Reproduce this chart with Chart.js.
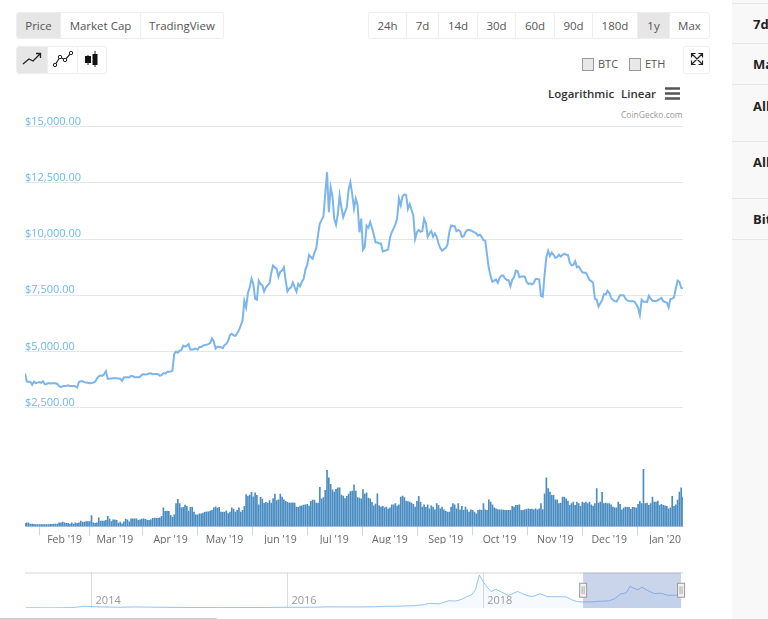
<!DOCTYPE html>
<html>
<head>
<meta charset="utf-8">
<title>Bitcoin price chart</title>
<script src="https://cdn.jsdelivr.net/npm/chart.js@4"></script>
<style>
html, body { margin: 0; padding: 0; background: #fff; width: 768px; height: 619px; overflow: hidden; }
body { position: relative; font-family: "Open Sans", sans-serif; color: #555; }
canvas { position: absolute; display: block; }
.group { position: absolute; display: flex; box-sizing: border-box; border: 1px solid #eee; border-radius: 3px; height: 27px; background: #fff; overflow: hidden; }
.group div { box-sizing: border-box; border-right: 1px solid #eee; font-size: 11.5px; line-height: 25px; text-align: center; flex: none; }
.group div:last-child { border-right: 0; }
.group .on { background: #e6e6e6; }
.group svg { display: block; margin: 2px auto 0; }
.abs { position: absolute; white-space: nowrap; }
.check { position: absolute; top: 58px; width: 10px; height: 11px; border: 1px solid #999; background: #e8e8e8; }
.panel { position: absolute; left: 732px; top: 0; width: 36px; height: 619px; background: #f8f8f8; overflow: hidden; }
.panel div { position: absolute; left: 21px; font: bold 13px "Open Sans", sans-serif; color: #222; white-space: nowrap; }
.panel hr { position: absolute; left: 0; width: 36px; margin: 0; border: 0; border-top: 1px solid #e6e6e6; }
</style>
</head>
<body>

<div class="group" style="left:16px;top:12px;width:208px">
  <div class="on" style="width:44px">Price</div>
  <div style="width:80px">Market Cap</div>
  <div style="width:82px">TradingView</div>
</div>
<div class="group" style="left:368px;top:12px;width:342px">
  <div style="width:38px">24h</div>
  <div style="width:32px">7d</div>
  <div style="width:39px">14d</div>
  <div style="width:38px">30d</div>
  <div style="width:39px">60d</div>
  <div style="width:38px">90d</div>
  <div style="width:45px">180d</div>
  <div class="on" style="width:32px">1y</div>
  <div style="width:39px">Max</div>
</div>
<div class="group" style="left:16px;top:46px;width:91px;height:28px">
  <div class="on" style="width:31px"><svg width="22" height="20"><path d="M2 15 L8 10 L12 12 L19 5 M15 4.500 H19.500 V9" fill="none" stroke="#222" stroke-width="1.300"/></svg></div>
  <div style="width:30px"><svg width="22" height="20"><path d="M3 16 L8 8 L13 11 L19 4" fill="none" stroke="#222" stroke-width="1.200"/><circle cx="3" cy="16" r="1.700" fill="#fff" stroke="#222"/><circle cx="8" cy="8" r="1.700" fill="#fff" stroke="#222"/><circle cx="13" cy="11" r="1.700" fill="#fff" stroke="#222"/><circle cx="19" cy="4" r="1.700" fill="#fff" stroke="#222"/></svg></div>
  <div style="width:28px"><svg width="20" height="20"><path d="M6 6 V16 M13 2 V18" stroke="#222"/><rect x="3" y="7" width="6" height="7" fill="#111"/><rect x="10.500" y="5" width="5" height="11" fill="#111"/></svg></div>
</div>
<div class="group" style="left:683px;top:46px;width:27px;height:28px">
  <div style="width:25px"><svg width="14" height="14" style="margin-top:5px"><path d="M2 2 L12 12 M12 2 L2 12 M1.500 5.500 V1.500 H5.500 M8.500 1.500 H12.500 V5.500 M1.500 8.500 V12.500 H5.500 M8.500 12.500 H12.500 V8.500" fill="none" stroke="#222" stroke-width="1.200"/></svg></div>
</div>

<div class="check" style="left:582px"></div>
<div class="abs" style="left:598px;top:56px;font-size:11px">BTC</div>
<div class="check" style="left:629px"></div>
<div class="abs" style="left:645px;top:56px;font-size:11px">ETH</div>

<div class="abs" style="left:548px;top:86px;font:600 11.5px 'Open Sans',sans-serif;color:#333">Logarithmic</div>
<div class="abs" style="left:621px;top:86px;font:600 11.5px 'Open Sans',sans-serif;color:#333">Linear</div>
<svg class="abs" style="left:665px;top:87px" width="15" height="13"><path d="M0 1.500 H15 M0 6.500 H15 M0 11.500 H15" stroke="#555" stroke-width="2.500"/></svg>
<div class="abs" style="left:621px;top:109px;font-size:8.5px;color:#999">CoinGecko.com</div>

<canvas id="main-chart" style="left:25px;top:100px" width="660" height="444"></canvas>
<canvas id="nav-chart" style="left:25px;top:565px" width="665" height="50"></canvas>

<div class="panel">
  <hr style="top:3px"><div style="top:15px">7d</div>
  <hr style="top:43px"><div style="top:55px">Market Cap</div>
  <hr style="top:84px"><div style="top:97px">All-Time High</div>
  <hr style="top:141px"><div style="top:153px">All-Time Low</div>
  <hr style="top:198px"><div style="top:210px">Bitcoin</div>
  <hr style="top:239px">
</div>
<div class="abs" style="left:0;top:618px;width:217px;height:1px;background:#ccc"></div>

<script>
// Preços diários em USD (10 jan 2019 a 11 jan 2020)
const priceJan19 = [4020, 3670, 3660, 3650, 3520, 3660, 3600, 3620, 3640, 3610, 3680, 3550, 3560, 3600, 3580, 3590, 3590, 3590, 3560, 3450, 3430, 3460];
const priceFeb19 = [3470, 3480, 3500, 3470, 3470, 3470, 3450, 3400, 3650, 3680, 3680, 3640, 3620, 3610, 3590, 3600, 3620, 3660, 3800, 3900, 3930, 3920, 3990, 4130, 3790, 3790, 3800, 3810];
const priceMar19 = [3810, 3810, 3800, 3790, 3700, 3850, 3860, 3860, 3850, 3920, 3900, 3860, 3860, 3860, 3880, 3970, 3990, 3980, 3990, 4020, 4030, 3990, 4000, 4000, 3990, 3930, 3950, 4040, 4020, 4090, 4100];
const priceApr19 = [4110, 4150, 4900, 5000, 4950, 5040, 5060, 5260, 5220, 5260, 5330, 5080, 5090, 5100, 5130, 5080, 5200, 5200, 5260, 5290, 5300, 5330, 5380, 5580, 5450, 5130, 5210, 5200, 5190, 5150];
const priceMay19 = [5290, 5340, 5480, 5730, 5790, 5720, 5700, 5800, 5950, 6150, 6370, 7260, 6960, 7600, 7850, 8230, 8000, 7350, 7300, 8150, 8000, 7950, 7670, 7850, 7950, 8030, 8500, 8820, 8740, 8680, 8330];
const priceJun19 = [8550, 8600, 8740, 8150, 7670, 7800, 7850, 8060, 7850, 7660, 8010, 7900, 8100, 8230, 8650, 8850, 9300, 9200, 9130, 9400, 9570, 10200, 10690, 10850, 11000, 12000, 12970, 11190, 12300, 11900];
const priceJul19 = [10900, 10630, 11100, 11930, 11400, 10970, 11200, 11410, 12200, 12530, 12000, 11350, 11800, 11500, 10300, 10910, 9530, 9650, 10600, 10500, 10750, 10500, 10200, 9850, 9850, 9800, 9800, 9450, 9480, 9500, 9530];
const priceAug19 = [10050, 10300, 10460, 10650, 10900, 11800, 11500, 11900, 11980, 11950, 11340, 11550, 11300, 11040, 10000, 10300, 10400, 10320, 10350, 10890, 10700, 10100, 10250, 10350, 10100, 10250, 10100, 9800, 9600, 9480, 9550];
const priceSep19 = [9600, 9750, 10300, 10600, 10580, 10570, 10350, 10400, 10350, 10100, 10120, 10300, 10400, 10400, 10380, 10340, 10300, 10250, 10150, 10200, 10100, 9950, 9930, 9300, 8700, 8350, 8100, 8150, 8200, 8050];
const priceOct19 = [8270, 8370, 8380, 8250, 8180, 8170, 7900, 8180, 8300, 8590, 8570, 8300, 8330, 8330, 8330, 8100, 8000, 8030, 7980, 8050, 8220, 8220, 8200, 7480, 7440, 8400, 9200, 9480, 9250, 9400, 9300];
const priceNov19 = [9160, 9200, 9300, 9220, 9300, 9350, 9300, 9290, 8950, 8830, 8850, 9010, 8750, 8780, 8650, 8520, 8500, 8500, 8350, 8180, 8130, 8050, 7340, 7300, 7000, 7150, 7280, 7550, 7540, 7700];
const priceDec19 = [7600, 7380, 7300, 7240, 7220, 7350, 7500, 7500, 7500, 7350, 7270, 7250, 7240, 7230, 7220, 7100, 6950, 6620, 7300, 7220, 7210, 7200, 7480, 7350, 7260, 7250, 7250, 7280, 7330, 7380, 7240];
const priceJan20 = [7200, 7180, 6960, 7330, 7350, 7400, 7800, 8150, 8100, 7830, 7800];

// Volume diário em bilhões de USD
const volJan19 = [2.5, 3, 2.8, 2, 2, 1.8, 1.6, 1.6, 1.6, 1.6, 1.6, 1.6, 1.6, 1.6, 1.8, 1.8, 2, 2, 2, 3, 3, 3.5];
const volFeb19 = [3, 2.5, 2.5, 2, 3, 2, 3, 2.5, 3, 4.4, 3.5, 3.5, 4, 4, 4, 9, 3, 2.5, 3, 7.2, 4.5, 4.5, 4.5, 5, 8.3, 6, 4, 5.5];
const volMar19 = [5.5, 5, 2.8, 3.6, 2.2, 3.9, 6.1, 5.5, 3.9, 6.4, 6.4, 6.4, 6.4, 5, 5.5, 6.1, 6.4, 5.8, 5, 5, 5.5, 6.7, 6.9, 6.7, 6.7, 7.2, 8.3, 15.5, 12.5, 12.8, 12.5];
const volApr19 = [9.2, 7.8, 9.7, 18.9, 22.5, 18.9, 15.5, 15.8, 17.8, 16.7, 12.8, 15.8, 15.8, 11.9, 9.7, 9.7, 10.5, 10.5, 11.1, 11.7, 12.2, 12.2, 12.8, 13.3, 15.5, 16.4, 15.3, 15.8, 11.9, 11.9];
const volMay19 = [11.9, 13, 10.6, 11.9, 15.5, 14.4, 11.9, 13.3, 15.5, 11.9, 13.3, 16.7, 26.4, 25.3, 26.1, 28.3, 24.7, 28, 25.8, 18, 24.2, 22.8, 19.2, 20, 19.4, 21.4, 19.4, 23.1, 26.9, 21.4, 22.2];
const volJun19 = [26.9, 24.5, 22.2, 20.8, 20, 19.4, 19.7, 19.7, 19.4, 16.1, 15.8, 16.9, 17.2, 17.8, 18, 18.3, 16.9, 20.8, 21.9, 21.9, 19.4, 19.4, 32.5, 23, 24, 30, 46.7, 40.5, 35, 30.5];
const volJul19 = [28.6, 30.8, 32.2, 32.2, 26, 25.3, 23.1, 25, 27, 29, 29.4, 34.7, 29.4, 24, 23.5, 23, 30.6, 27, 28, 23.5, 23, 20, 17.2, 18.6, 27.2, 17.2, 16.1, 16.7, 15.5, 16, 14.4];
const volAug19 = [15.5, 18, 18, 18.9, 16.9, 18, 24.4, 25.3, 23.9, 21.1, 20.6, 20.3, 19.4, 18.3, 16.1, 20.8, 25, 20.3, 16.1, 18, 15.8, 18, 14.7, 17.2, 16.1, 13.9, 18.9, 17.5, 14.7, 16.1, 13.9];
const volSep19 = [12.5, 11.9, 11.9, 16.1, 18.9, 18, 14.7, 18.9, 13.9, 16.7, 13.3, 16.1, 13.9, 11.9, 13.9, 13.3, 11.9, 10.5, 13.3, 13.9, 13.3, 18.9, 13.9, 13.3, 22.2, 20.3, 18, 15.5, 14.7, 14];
const volOct19 = [13.9, 13.9, 13.6, 13.3, 13.3, 13.3, 13.3, 16.7, 16.1, 17.5, 17.5, 18, 13.3, 13.3, 13.9, 14.2, 14.7, 14.2, 14.4, 13.9, 14.7, 13.9, 14.7, 18.9, 14, 27.2, 40.5, 31.4, 28.6, 25.8, 25.8];
const volNov19 = [22.2, 22.2, 18.9, 19.4, 24.4, 24.4, 23, 21, 17.5, 18.9, 20.3, 17.5, 20.3, 18.9, 16.7, 20.3, 19.4, 20.3, 18.9, 20.3, 18, 17, 19, 31.4, 19.4, 20.3, 28.3, 18.9, 19.4, 18.9];
const volDec19 = [18.9, 18, 16.1, 15.5, 15.5, 20.3, 18.3, 13.9, 15.3, 16, 15.8, 15.8, 14.2, 15.8, 15.8, 15.3, 18.3, 20.8, 19, 47.5, 18.9, 19.4, 17.5, 19, 24.4, 20.3, 20.3, 21.1, 17.5, 18.3, 17.5];
const volJan20 = [17.2, 16.7, 14.7, 15.5, 25, 16.7, 18, 22, 28.6, 32.2, 24.4];

// Rótulos dos meses e a posição (em dias) de cada um
const monthLabels = ["Feb '19", "Mar '19", "Apr '19", "May '19", "Jun '19", "Jul '19", "Aug '19", "Sep '19", "Oct '19", "Nov '19", "Dec '19", "Jan '20"];
const monthDays = [22, 50, 81, 111, 142, 172, 203, 234, 264, 295, 325, 356];
const priceTicks = [2500, 5000, 7500, 10000, 12500, 15000];

// Histórico do navegador (ano, preço)
const navYears = [2013.33, 2013.6, 2013.8, 2013.9, 2013.93, 2014.0, 2014.1, 2014.2, 2014.3, 2014.45, 2014.6, 2014.8, 2015.0, 2015.3, 2015.5, 2015.8, 2016.0, 2016.2, 2016.45, 2016.7, 2016.9, 2017.0, 2017.1, 2017.2, 2017.3, 2017.4, 2017.45, 2017.55, 2017.65, 2017.72, 2017.78, 2017.83, 2017.88, 2017.92, 2017.96, 2018.0, 2018.04, 2018.08, 2018.13, 2018.19, 2018.26, 2018.35, 2018.43, 2018.5, 2018.58, 2018.66, 2018.75, 2018.85, 2018.9, 2018.96, 2019.02, 2019.1, 2019.2, 2019.28, 2019.34, 2019.4, 2019.46, 2019.5, 2019.53, 2019.58, 2019.62, 2019.68, 2019.75, 2019.82, 2019.88, 2019.94, 2020.03];
const navPrices = [130, 100, 180, 900, 1000, 800, 650, 550, 450, 620, 500, 380, 280, 230, 260, 300, 430, 420, 680, 610, 750, 970, 1000, 1200, 1350, 2000, 2700, 2400, 4200, 4000, 5000, 6500, 7500, 10500, 19000, 15000, 12000, 9500, 10800, 9000, 7200, 9500, 7500, 6500, 8200, 6500, 6500, 6400, 4800, 3700, 3500, 3500, 3900, 4100, 5200, 8000, 8700, 12500, 11500, 10500, 12000, 10000, 8300, 8500, 7300, 7400, 7300];
const navSelection = [2019.02, 2020.02];
const navTicks = [2014, 2016, 2018];

const price = [].concat(priceJan19, priceFeb19, priceMar19, priceApr19, priceMay19, priceJun19, priceJul19, priceAug19, priceSep19, priceOct19, priceNov19, priceDec19, priceJan20);
const volume = [].concat(volJan19, volFeb19, volMar19, volApr19, volMay19, volJun19, volJul19, volAug19, volSep19, volOct19, volNov19, volDec19, volJan20);
const days = price.map((p, i) => i);

Chart.defaults.font.family = '"Open Sans", sans-serif';
Chart.defaults.animation = false;

// Gráfico principal: preço e volume compartilham o eixo x
new Chart(document.getElementById("main-chart"), {
    data: {
        labels: days,
        datasets: [
            { type: "line", data: price, yAxisID: "y", borderColor: "#7cb5ec", borderWidth: 2, pointRadius: 0, tension: 0, order: 1 },
            { type: "bar", data: volume, yAxisID: "yVol", backgroundColor: "#4a8cc2", barThickness: 1, order: 2 }
        ]
    },
    options: {
        responsive: false,
        layout: { padding: { top: 26.5, right: 2, left: 0, bottom: 0 } },
        plugins: { legend: { display: false }, tooltip: { enabled: false } },
        scales: {
            x: {
                offset: false,
                grid: { drawOnChartArea: false, drawTicks: true, tickLength: 9, tickColor: "#ccd6eb" },
                border: { color: "#ccd6eb" },
                ticks: {
                    autoSkip: false, maxRotation: 0, color: "#666", font: { size: 10.5 }, padding: -2,
                    callback: v => monthLabels[monthDays.indexOf(v)]
                },
                afterBuildTicks: axis => { axis.ticks = monthDays.map(d => ({ value: d })); }
            },
            y: {
                min: -2770, max: 15000,
                grid: { color: "#e6e6e6", drawTicks: false },
                border: { display: false },
                ticks: {
                    mirror: true, padding: 0, labelOffset: -5, color: "#6cb9ec", font: { size: 11 },
                    callback: v => "$" + v.toLocaleString("en-US", { minimumFractionDigits: 2 })
                },
                afterBuildTicks: axis => { axis.ticks = priceTicks.map(v => ({ value: v })); }
            },
            yVol: { display: false, min: 0, max: 333 }
        }
    }
});

// Máscara da seleção e alças do navegador
const navMask = {
    id: "navMask",
    afterDatasetsDraw(chart) {
        const { ctx, chartArea, scales } = chart;
        const x0 = scales.x.getPixelForValue(navSelection[0]);
        const x1 = scales.x.getPixelForValue(navSelection[1]);
        ctx.save();
        ctx.strokeStyle = "#d4d4d4";
        ctx.beginPath();
        ctx.moveTo(chartArea.left, chartArea.top + 0.5);
        ctx.lineTo(chartArea.right, chartArea.top + 0.5);
        ctx.stroke();
        ctx.fillStyle = "rgba(102,133,194,0.35)";
        ctx.fillRect(x0, chartArea.top, x1 - x0, chartArea.bottom - chartArea.top);
        [x0, x1].forEach(x => {
            const top = (chartArea.top + chartArea.bottom) / 2 - 7;
            ctx.fillStyle = "#f2f2f2";
            ctx.strokeStyle = "#999";
            ctx.fillRect(x - 3.5, top, 7, 14);
            ctx.strokeRect(x - 3.5, top, 7, 14);
            ctx.fillStyle = "#aaa";
            ctx.fillRect(x - 1.5, top + 3, 1, 8);
            ctx.fillRect(x + 0.5, top + 3, 1, 8);
        });
        ctx.restore();
    }
};

new Chart(document.getElementById("nav-chart"), {
    type: "line",
    data: {
        datasets: [{
            data: navYears.map((y, i) => ({ x: y, y: navPrices[i] })),
            borderColor: "rgba(124,181,236,0.8)", borderWidth: 1, pointRadius: 0, tension: 0,
            fill: "origin", backgroundColor: "rgba(124,181,236,0.07)"
        }]
    },
    plugins: [navMask],
    options: {
        responsive: false,
        layout: { padding: { top: 7.5, right: 7, left: 0, bottom: 7 } },
        plugins: { legend: { display: false }, tooltip: { enabled: false } },
        scales: {
            x: {
                type: "linear", min: 2013.32, max: 2020.04,
                grid: { color: "#dcdcdc", drawTicks: false },
                border: { display: false },
                ticks: { color: "#999", font: { size: 11 }, align: "start", padding: -14, labelOffset: 4, maxRotation: 0, autoSkip: false, callback: v => String(v) },
                afterBuildTicks: axis => { axis.ticks = navTicks.map(v => ({ value: v })); }
            },
            y: { display: false, min: 0, max: 20400 }
        }
    }
});
</script>
</body>
</html>
